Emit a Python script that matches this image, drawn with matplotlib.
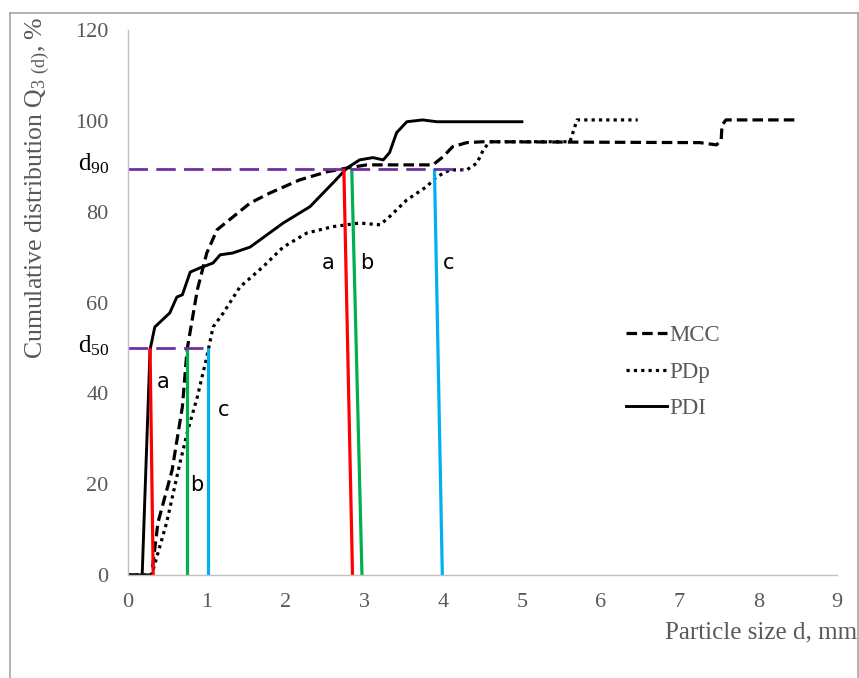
import matplotlib
matplotlib.use("Agg")
import matplotlib.pyplot as plt
from matplotlib.lines import Line2D

plt.rcParams["font.family"] = ["Liberation Serif", "DejaVu Serif"]
plt.rcParams["mathtext.fontset"] = "custom"
plt.rcParams["mathtext.rm"] = "Liberation Serif"

# Cumulative distributions (particle size in mm, Q3 in %)
mcc_x = [0.0, 0.30, 0.38, 0.56, 0.69, 0.75, 0.88, 1.00, 1.13, 1.55, 1.80, 2.18, 2.53,
         2.78, 3.03, 3.45, 3.87, 4.00, 4.12, 4.30, 4.51, 7.26, 7.47, 7.53, 7.54, 7.59, 8.50]
mcc_y = [0.0, 0.0, 11.5, 23.1, 37.0, 49.6, 62.8, 70.9, 76.0, 81.9, 84.1, 87.0, 88.8,
         89.6, 90.3, 90.3, 90.3, 92.1, 94.3, 95.2, 95.4, 95.2, 94.7, 95.8, 99.0, 100.2, 100.2]

pdp_x = [0.0, 0.30, 0.49, 0.66, 0.76, 0.88, 1.00, 1.08, 1.21, 1.42, 1.71, 1.97, 2.27,
         2.60, 2.94, 3.20, 3.32, 3.54, 3.79, 3.92, 4.09, 4.30, 4.43, 4.51, 4.59, 5.61,
         5.70, 6.47]
pdp_y = [0.0, 0.0, 11.5, 24.7, 31.9, 39.2, 48.0, 54.6, 57.7, 63.4, 67.8, 72.2, 75.3,
         76.7, 77.5, 77.1, 78.9, 82.6, 85.5, 87.7, 89.2, 89.2, 90.7, 93.6, 95.4, 95.4,
         100.2, 100.2]

pdi_x = [0.0, 0.18, 0.22, 0.28, 0.34, 0.53, 0.62, 0.69, 0.79, 0.91, 1.08, 1.17, 1.33,
         1.55, 1.97, 2.31, 2.60, 2.78, 2.94, 3.11, 3.24, 3.32, 3.41, 3.54, 3.74, 3.92,
         5.00]
pdi_y = [0.0, 0.0, 20.0, 49.6, 54.6, 57.7, 61.2, 61.7, 66.7, 67.6, 68.7, 70.5, 70.9,
         72.2, 77.5, 81.1, 86.3, 89.6, 91.4, 91.9, 91.4, 93.0, 97.4, 99.8, 100.2, 99.8,
         99.8]

# Characteristic sizes: (x at level, x at axis) for a = PDI, b = MCC, c = PDp
d50_level = 50.0
d90_level = 89.5
d50_top = [0.28, 0.75, 1.02]
d50_bottom = [0.32, 0.75, 1.02]
d90_top = [2.74, 2.84, 3.89]
d90_bottom = [2.85, 2.97, 3.99]
marker_colors = ["#FF0000", "#00B050", "#00B0F0"]
marker_names = ["a", "b", "c"]
d50_label_pos = [(0.44, 42.5), (0.87, 19.8), (1.21, 36.3)]
d90_label_pos = [(2.54, 68.7), (3.03, 68.7), (4.07, 68.7)]
d50_guide_end = 1.02
d90_guide_end = 4.25

x_ticks = list(range(0, 10))
y_ticks = list(range(0, 121, 20))

grey_text = "#595959"

fig = plt.figure(figsize=(8.59, 6.78), dpi=100)
ax = fig.add_axes([128 / 859, 1 - 575 / 678, (837 - 128) / 859, (575 - 30) / 678])

ax.plot(mcc_x, mcc_y, color="black", lw=2.3, linestyle=(0, (3.3, 1.6)), label="MCC")
ax.plot(pdp_x, pdp_y, color="black", lw=2.3, linestyle=(0, (1.0, 1.3)), label="PDp")
ax.plot(pdi_x, pdi_y, color="black", lw=2.1, linestyle="-", label="PDI")

for xt, xb, c in zip(d50_top, d50_bottom, marker_colors):
    ax.plot([xt, xb], [d50_level, 0], color=c, lw=2.3, solid_capstyle="butt")
for xt, xb, c in zip(d90_top, d90_bottom, marker_colors):
    ax.plot([xt, xb], [d90_level, 0], color=c, lw=2.3, solid_capstyle="butt")

ax.plot([0, d50_guide_end], [d50_level, d50_level], color="#7030A0", lw=2.0,
        linestyle=(0, (7, 3)))
ax.plot([0, d90_guide_end], [d90_level, d90_level], color="#7030A0", lw=2.0,
        linestyle=(0, (7, 3)))

for (lx, ly), name in zip(d50_label_pos + d90_label_pos, marker_names * 2):
    ax.text(lx, ly, name, family="DejaVu Sans", fontsize=15, ha="center", va="center")

ax.text(-0.44, d90_level + 1.0, r"$\mathregular{d_{90}}$", fontsize=18, ha="center",
        va="center", clip_on=False)
ax.text(-0.44, d50_level + 0.5, r"$\mathregular{d_{50}}$", fontsize=18, ha="center",
        va="center", clip_on=False)

ax.set_xlim(0, 9)
ax.set_ylim(0, 120)
ax.set_xticks(x_ticks)
ax.set_yticks(y_ticks)
ax.tick_params(length=0, labelsize=16, labelcolor=grey_text)
ax.tick_params(axis="y", pad=14)
ax.tick_params(axis="x", pad=13)

for side in ["top", "right"]:
    ax.spines[side].set_visible(False)
for side in ["left", "bottom"]:
    ax.spines[side].set_color("#BFBFBF")
    ax.spines[side].set_linewidth(1.0)

fig.text(857 / 859, 1 - 632 / 678, "Particle size d, mm", fontsize=18, color=grey_text,
         ha="right", va="center")
fig.text(38 / 859, 1 - 188 / 678, r"Cumulative distribution Q$\mathregular{_{3\ (d)}}$, %",
         fontsize=18.5, color=grey_text, rotation=90, ha="center", va="center")

ax.legend(loc="upper left", bbox_to_anchor=(626 / 859, 1 - 325 / 678),
          bbox_transform=fig.transFigure, frameon=False, fontsize=16.5,
          handlelength=1.8, handletextpad=0.1, labelspacing=0.68, borderpad=0,
          borderaxespad=0, labelcolor=grey_text)

# Outer frame
frame_kw = dict(color="#A6A6A6", lw=1.2, transform=fig.transFigure)
fig.add_artist(Line2D([10 / 859, 10 / 859], [0, 1 - 13 / 678], **frame_kw))
fig.add_artist(Line2D([10 / 859, 858 / 859], [1 - 13 / 678, 1 - 13 / 678], **frame_kw))
fig.add_artist(Line2D([858 / 859, 858 / 859], [0, 1 - 13 / 678], **frame_kw))

fig.savefig("out.png", dpi=100)
